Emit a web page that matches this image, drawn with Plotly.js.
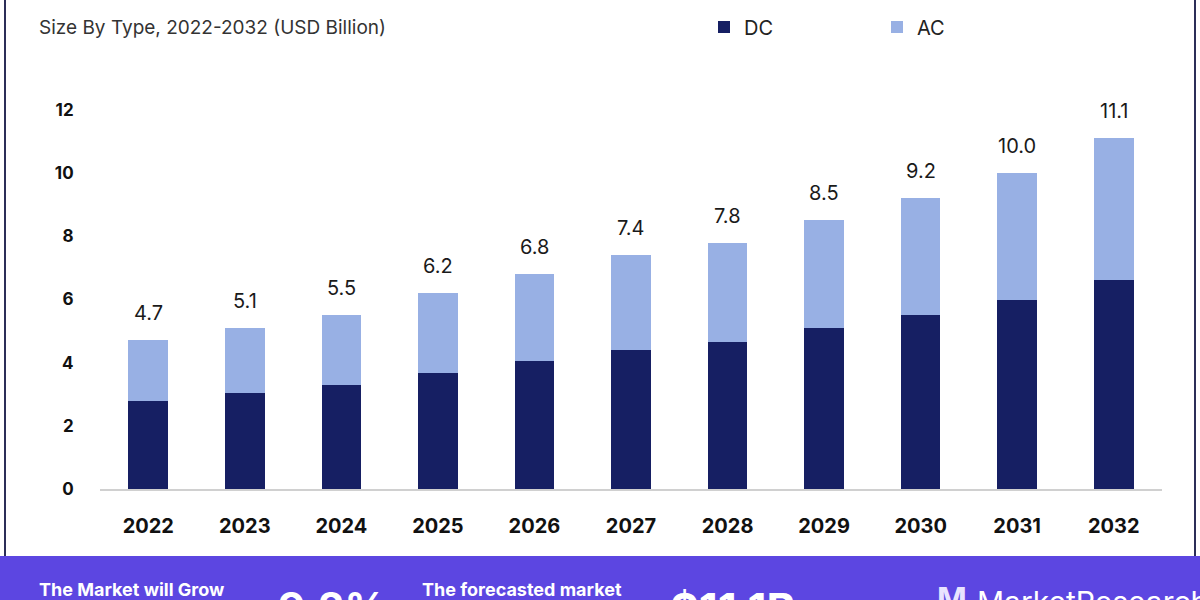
<!DOCTYPE html>
<html>
<head>
<meta charset="utf-8">
<script src="https://cdn.plot.ly/plotly-3.0.1.min.js"></script>
<style>html,body{margin:0;padding:0;background:#fff;}#chart{width:1200px;height:600px;}</style>
</head>
<body>
<div id="chart"></div>
<script>
const years = ['2022','2023','2024','2025','2026','2027','2028','2029','2030','2031','2032'];
const dcValues = [2.79, 3.03, 3.30, 3.67, 4.06, 4.39, 4.64, 5.09, 5.50, 5.99, 6.61];
const acValues = [1.91, 2.07, 2.20, 2.53, 2.74, 3.01, 3.16, 3.41, 3.70, 4.01, 4.49];
const totalLabels = ['4.7','5.1','5.5','6.2','6.8','7.4','7.8','8.5','9.2','10.0','11.1'];
const yTicks = [0, 2, 4, 6, 8, 10, 12];

const FONT = 'Inter, Open Sans, sans-serif';
const DC_COLOR = '#161f63';
const AC_COLOR = '#98b0e4';

const idx = years.map((_, i) => i);

const traces = [
  {type:'bar', name:'DC', x:idx, y:dcValues, marker:{color:DC_COLOR}, width:0.41},
  {type:'bar', name:'AC', x:idx, y:acValues, marker:{color:AC_COLOR}, width:0.41}
];

const annotations = idx.map(i => ({
  x: i, y: dcValues[i] + acValues[i], xref:'x', yref:'y',
  text: totalLabels[i], showarrow:false, yanchor:'bottom', yshift:13,
  font:{family:FONT, size:20, color:'#1a1a1a'}
}));

function px(xp){return xp/1200;}
function py(yp){return 1 - yp/600;}

annotations.push(
  {xref:'paper', yref:'paper', x:px(37), y:py(27), xanchor:'left', yanchor:'middle', showarrow:false,
   text:'Size By Type, 2022-2032 (USD Billion)', font:{family:FONT, size:19, color:'#333333'}},
  {xref:'paper', yref:'paper', x:px(37), y:py(589), xanchor:'left', yanchor:'middle', showarrow:false,
   text:'<b>The Market will Grow</b>', font:{family:FONT, size:18, color:'#ffffff'}},
  {xref:'paper', yref:'paper', x:px(276), y:py(580), xanchor:'left', yanchor:'top', showarrow:false,
   text:'<b>9.2%</b>', font:{family:FONT, size:42, color:'#ffffff'}},
  {xref:'paper', yref:'paper', x:px(420), y:py(589), xanchor:'left', yanchor:'middle', showarrow:false,
   text:'<b>The forecasted market</b>', font:{family:FONT, size:18, color:'#ffffff'}},
  {xref:'paper', yref:'paper', x:px(668), y:py(580), xanchor:'left', yanchor:'top', showarrow:false,
   text:'<b>$11.1B</b>', font:{family:FONT, size:44, color:'#ffffff'}},
  {xref:'paper', yref:'paper', x:px(975), y:py(582), xanchor:'left', yanchor:'top', showarrow:false,
   text:'MarketResearch', font:{family:FONT, size:30, color:'#ffffff'}},
  {xref:'paper', yref:'paper', x:px(935), y:py(578), xanchor:'left', yanchor:'top', showarrow:false,
   text:'<b>M</b>', font:{family:FONT, size:32, color:'#e8e4ff'}}
);

const layout = {
  width:1200, height:600,
  margin:{l:0, r:0, t:0, b:0},
  paper_bgcolor:'#ffffff', plot_bgcolor:'#ffffff',
  barmode:'stack',
  font:{family:FONT},
  showlegend:true,
  legend:{orientation:'h', x:px(704), y:py(27), xanchor:'left', yanchor:'middle',
          traceorder:'normal', entrywidth:128,
          font:{family:FONT, size:20, color:'#222222'}, bgcolor:'rgba(0,0,0,0)'},
  xaxis:{domain:[px(100), px(1162)], range:[-0.5, 10.5], showgrid:false, zeroline:false,
         showline:true, linecolor:'#d0d0d0', linewidth:1.5,
         tickvals:idx, ticktext:years,
         ticks:'outside', ticklen:18, tickcolor:'rgba(0,0,0,0)',
         tickfont:{family:FONT, size:20, color:'#111111', weight:'bold'}},
  yaxis:{domain:[py(489), py(94)], range:[0, 12.5], showgrid:false, zeroline:false, showline:false,
         tickvals:yTicks, ticktext:yTicks.map(String),
         ticks:'outside', ticklen:22, tickcolor:'rgba(0,0,0,0)',
         tickfont:{family:FONT, size:17, color:'#111111', weight:'bold'}},
  shapes:[
    {type:'rect', xref:'paper', yref:'paper', x0:0, x1:1, y0:0, y1:py(556), fillcolor:'#5c46e1', line:{width:0}, layer:'below'},
    {type:'line', xref:'paper', yref:'paper', x0:px(5), x1:px(5), y0:py(556), y1:1, line:{color:'#2c2e58', width:2}},
    {type:'line', xref:'paper', yref:'paper', x0:px(1195), x1:px(1195), y0:py(556), y1:1, line:{color:'#2c2e58', width:2}}
  ],
  annotations:annotations
};

Plotly.newPlot('chart', traces, layout, {displayModeBar:false, staticPlot:true});
</script>
</body>
</html>
